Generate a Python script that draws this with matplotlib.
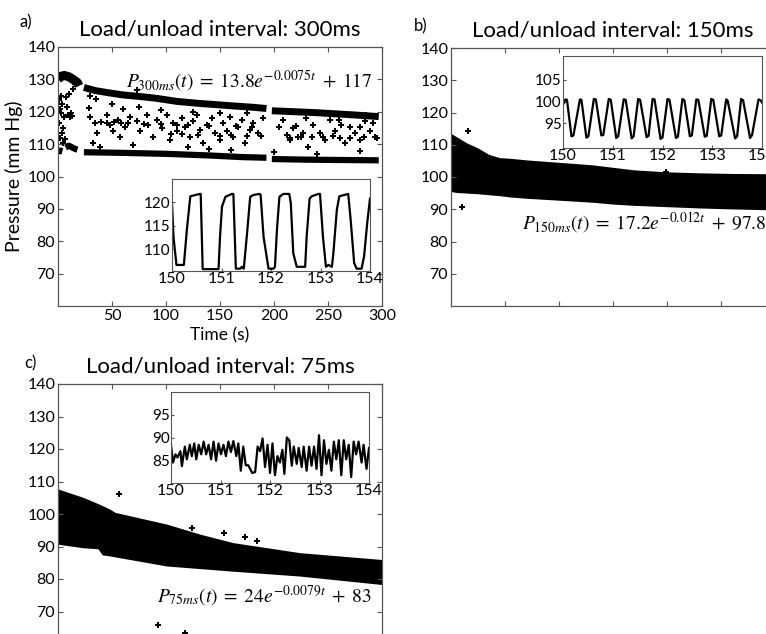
import matplotlib.pyplot as plt

plt.rcParams['font.family'] = ['Lato', 'DejaVu Sans']
plt.rcParams['mathtext.fontset'] = 'stix'

# ---- panel a: 300 ms, two dense bands plus scattered points in between
a_top1_t = [0, 3, 6, 10, 14, 18, 19.5]
a_top1_p = [130.0, 131.0, 131.2, 130.8, 130.0, 129.0, 128.0]
a_bot1_t = [0, 2, 4]
a_bot1_p = [107.5, 108.0, 107.8]
a_bot1b_t = [7, 10, 13, 16, 18]
a_bot1b_p = [109.0, 109.5, 109.0, 108.5, 108.3]
a_top2_t = [24, 35, 48, 60, 76, 90, 110, 130, 150, 162, 180, 193]
a_top2_p = [127.5, 126.5, 125.8, 125.2, 124.7, 124.2, 123.2, 122.6, 122.1, 121.8, 121.4, 121.0]
a_top3_t = [198, 220, 240, 255, 275, 297]
a_top3_p = [120.3, 120.0, 119.7, 119.4, 119.0, 118.5]
a_bot2_t = [24, 60, 100, 140, 170, 193]
a_bot2_p = [107.5, 107.3, 107.0, 106.5, 106.0, 105.8]
a_bot3_t = [198, 230, 260, 297]
a_bot3_p = [105.4, 105.2, 105.1, 105.0]
a_mid_t = [0.8, 1.5, 2.5, 3.0, 4.0, 5.0, 6.0, 7.0, 8.0, 9.0, 11.0, 12.0, 13.0, 2.0, 3.5, 6.5, 1.0, 4.5, 10.0, 14.0, 16.0,
           29.0, 29.6, 34.3, 35.8, 32.7, 38.9, 45.1, 48.1, 51.2, 55.9, 57.4, 62.0, 66.7, 69.7, 72.8, 75.9, 82.1, 83.6,
           88.3, 91.3, 96.0, 100.6, 103.7, 106.8, 109.9, 114.5, 117.6, 122.2, 125.3, 128.4, 131.5, 134.5, 137.6,
           142.3, 145.3, 150.0, 153.1, 156.2, 159.2, 162.3, 167.0, 170.0, 173.1, 177.8, 180.8, 185.5, 190.1,
           208.6, 211.7, 214.8, 217.9, 222.5, 227.1, 231.8, 236.4, 242.6, 247.2, 251.8, 256.4, 261.1, 265.7,
           270.3, 275.0, 279.6, 284.2, 288.8, 293.5,
           40, 45, 52, 58, 65, 80, 95, 110, 120, 140, 165, 180, 105, 115, 130, 150, 160, 175, 188, 215, 225, 235,
           245, 255, 270, 283, 295, 205, 220, 262, 280, 292, 140, 120, 160, 200, 240, 280, 60, 75, 95, 125, 150,
           175, 230, 260, 285, 35, 50, 30, 72.8]
a_mid_p = [123.5, 121.0, 125.0, 119.5, 122.5, 115.0, 118.5, 124.5, 121.5, 119.0, 118.5, 119.5, 118.7, 112.0, 113.5,
           111.5, 116.5, 110.5, 125.5, 127.0, 128.5,
           121.1, 118.5, 116.4, 113.3, 110.2, 109.2, 119.0, 115.9, 113.9, 117.5, 112.3, 115.4, 118.5, 109.7, 117.0,
           113.9, 119.0, 115.9, 112.3, 117.5, 114.9, 119.0, 111.3, 116.4, 113.9, 118.0, 115.4, 112.3, 117.0, 119.0,
           114.4, 110.2, 115.9, 118.0, 113.3, 111.3, 116.4, 113.9, 118.5, 112.3, 115.4, 117.5, 110.2, 114.4, 116.4,
           113.3, 118.0,
           117.5, 112.8, 111.3, 114.9, 112.3, 113.3, 109.2, 115.9, 113.3, 111.3, 117.5, 113.9, 111.8, 110.2, 115.4,
           113.3, 111.3, 117.0, 113.9, 112.3,
           116.8, 116.6, 116.7, 116.4, 116.5, 116.3, 116.2, 116.0, 115.9, 115.7, 115.6, 115.4, 113.0, 113.1, 112.9,
           112.6, 112.8, 112.5, 112.4, 112.0, 112.3, 112.2, 112.1, 112.4, 112.0, 112.2, 111.8, 115.2, 115.5, 116.0,
           115.2, 116.5, 108.5, 109.0, 108.3, 107.5, 107.0, 108.0, 121.0, 121.5, 120.5, 120.0, 119.5, 119.5, 118.0,
           117.5, 119.0, 124.0, 122.5, 125.0, 126.6]

ins_a_t = [150.00, 150.03, 150.09, 150.24, 150.30, 150.37, 150.56, 150.58, 150.62, 150.94, 150.97, 151.01, 151.08,
           151.21, 151.24, 151.29, 151.38, 151.41, 151.45, 151.51, 151.58, 151.65, 151.77, 151.79, 151.85, 151.95,
           152.05, 152.08, 152.12, 152.17, 152.25, 152.37, 152.40, 152.45, 152.52, 152.69, 152.72, 152.78, 152.82,
           152.96, 152.99, 153.05, 153.11, 153.16, 153.23, 153.26, 153.33, 153.38, 153.56, 153.61, 153.68, 153.73,
           153.83, 153.88, 153.95, 154.00]
ins_a_p = [119.8, 112.6, 106.6, 106.6, 114.1, 121.3, 121.8, 121.8, 105.7, 105.7, 112.6, 119.1, 121.2,
           121.8, 121.8, 105.8, 105.8, 106.2, 105.8, 112.6, 121.2, 121.6, 121.8, 121.6, 112.6, 105.8,
           105.8, 106.2, 114.1, 121.2, 121.8, 121.8, 119.8, 109.1, 106.2, 106.2, 112.6, 120.8, 121.3,
           121.8, 121.8, 112.6, 106.2, 106.6, 106.2, 109.1, 118.4, 121.3, 121.8, 116.2, 107.0, 105.8,
           105.8, 108.4, 116.2, 120.8]

# ---- panel b: 150 ms, one dense cloud
b_t = [0, 5, 15, 25, 35, 45, 55, 70, 90, 110, 130, 150, 170, 200, 230, 260, 300]
b_hi = [113.5, 112.5, 110.5, 109.0, 107.0, 106.0, 105.8, 105.3, 104.8, 104.3, 103.8, 103.0, 102.2, 101.6, 101.3, 101.1, 101.0]
b_lo = [95.5, 95.2, 95.0, 94.8, 94.5, 94.2, 93.8, 93.4, 93.0, 92.6, 92.2, 91.6, 91.2, 90.8, 90.4, 90.1, 89.8]
b_out_t = [10, 16, 199]
b_out_p = [90.7, 114.4, 101.5]

ins_b_t = [150.00, 150.05, 150.08, 150.17, 150.21, 150.34, 150.37, 150.47, 150.51, 150.62, 150.66, 150.77, 150.81,
           150.92, 150.96, 151.07, 151.11, 151.22, 151.26, 151.38, 151.42, 151.51, 151.55, 151.68, 151.72, 151.80,
           151.84, 151.96, 152.00, 152.10, 152.14, 152.27, 152.31, 152.40, 152.44, 152.55, 152.59, 152.68, 152.72,
           152.85, 152.89, 152.98, 153.02, 153.14, 153.18, 153.28, 153.31, 153.46, 153.50, 153.58, 153.62, 153.76,
           153.80, 153.93, 153.97, 154.00]
ins_b_p = [99.3, 100.5, 100.4, 92.0, 92.2, 100.5, 100.4, 91.7, 92.0, 100.6, 100.5, 92.2, 92.3,
           100.6, 100.4, 91.6, 92.0, 100.5, 100.4, 91.5, 92.0, 100.6, 100.4, 91.8, 92.1, 100.6,
           100.5, 91.4, 91.7, 100.6, 100.4, 91.6, 91.9, 100.6, 100.3, 92.0, 92.2, 100.5, 100.4,
           91.9, 92.1, 100.6, 100.4, 92.0, 92.2, 100.5, 100.2, 91.5, 92.0, 100.6, 100.3, 91.6,
           92.3, 100.5, 100.3, 99.8]

# ---- panel c: 75 ms, one dense cloud
c_t = [0, 23.5, 37, 41, 48, 52.8, 100.6, 131.5, 162, 224, 300]
c_hi = [107.7, 105.1, 103.2, 102.6, 101.5, 100.5, 96.9, 93.8, 91.2, 88.1, 86.0]
c_lo = [90.7, 89.6, 89.3, 87.4, 87.1, 86.8, 84.0, 83.2, 82.4, 80.9, 78.3]
c_out_t = [56.7, 124, 154, 173, 184, 92.9, 118]
c_out_p = [106.2, 95.8, 94.3, 93.0, 91.7, 65.9, 63.5]

ins_c_t = [150.00, 150.04, 150.09, 150.13, 150.19, 150.22, 150.28, 150.32, 150.38, 150.42, 150.47, 150.51, 150.56,
           150.61, 150.66, 150.71, 150.76, 150.81, 150.86, 150.91, 150.96, 151.01, 151.06, 151.11, 151.16, 151.21,
           151.26, 151.32, 151.36, 151.41, 151.46, 151.51, 151.56, 151.60, 151.64, 151.70, 151.75, 151.80, 151.85,
           151.90, 151.95, 152.00, 152.05, 152.10, 152.15, 152.20, 152.25, 152.29, 152.34, 152.39, 152.44, 152.48,
           152.54, 152.58, 152.64, 152.68, 152.74, 152.79, 152.84, 152.89, 152.94, 152.99, 153.04, 153.09, 153.14,
           153.19, 153.24, 153.29, 153.34, 153.39, 153.44, 153.49, 153.54, 153.59, 153.64, 153.69, 153.74, 153.79,
           153.85, 153.89, 153.95, 154.00]
ins_c_p = [88.4, 84.5, 86.3, 85.6, 87.0, 83.7, 88.0, 85.2, 88.4, 85.9, 88.7, 85.2, 88.4,
           86.3, 89.1, 86.3, 88.4, 85.2, 89.1, 84.9, 88.7, 86.3, 88.4, 85.9, 89.1, 86.8,
           89.2, 85.9, 88.7, 82.7, 88.0, 83.9, 83.9, 83.1, 82.2, 82.4, 88.0, 87.0, 89.8,
           83.5, 88.4, 82.2, 88.7, 81.7, 85.9, 84.5, 87.3, 82.0, 90.0, 89.4, 83.8, 88.0,
           84.2, 87.7, 83.5, 88.0, 82.7, 88.0, 83.8, 88.0, 83.1, 90.5, 81.7, 89.4, 84.2,
           87.3, 82.7, 89.1, 85.2, 89.4, 81.7, 89.4, 85.2, 88.4, 81.3, 89.1, 86.3, 89.1,
           84.5, 88.4, 83.1, 87.7]

main_xticks = [50, 100, 150, 200, 250, 300]
main_yticks = [70, 80, 90, 100, 110, 120, 130, 140]
ins_xticks = [150, 151, 152, 153, 154]

W, H = 766, 634
fig = plt.figure(figsize=(W / 100, H / 100), dpi=100)
spine_col = '#555555'


def box(x0, y0, x1, y1):
    # pixel box (from top-left) -> figure axes
    return fig.add_axes([x0 / W, 1 - y1 / H, (x1 - x0) / W, (y1 - y0) / H])


def style_main(ax, title, letter, lx, ly, show_x=True):
    ax.set_xlim(0, 300)
    ax.set_ylim(60, 140)
    ax.set_xticks(main_xticks)
    ax.set_yticks(main_yticks)
    if not show_x:
        ax.set_xticklabels([])
    ax.tick_params(direction='in', length=3.5, width=0.8, top=True, right=True, labelsize=11.5, pad=2,
                   color=spine_col)
    for s in ax.spines.values():
        s.set_color(spine_col)
        s.set_linewidth(0.9)
    ax.set_title(title, fontsize=16, pad=8)
    fig.text(lx / W, 1 - ly / H, letter, fontsize=12, ha='left', va='center')


def style_inset(ax, ylim, yticks):
    ax.set_xlim(150, 154)
    ax.set_ylim(*ylim)
    ax.set_xticks(ins_xticks)
    ax.set_yticks(yticks)
    ax.tick_params(axis='x', direction='in', length=2, labelsize=11.5, pad=1, color=spine_col)
    ax.tick_params(axis='y', direction='in', length=2, labelsize=11, pad=1, color=spine_col)
    for s in ax.spines.values():
        s.set_color(spine_col)
        s.set_linewidth(0.8)


def formula(x, y, s):
    fig.text(x / W, 1 - y / H, s, fontsize=14, ha='left', va='baseline')


# panel a
axa = box(58, 47, 382, 306)
for tt, pp, lw in [(a_top1_t, a_top1_p, 6.5), (a_bot1_t, a_bot1_p, 4.5), (a_bot1b_t, a_bot1b_p, 4.5),
                   (a_top2_t, a_top2_p, 5), (a_top3_t, a_top3_p, 5), (a_bot2_t, a_bot2_p, 4.5),
                   (a_bot3_t, a_bot3_p, 4.5)]:
    axa.plot(tt, pp, color='k', lw=lw, solid_capstyle='butt')
axa.plot(a_mid_t, a_mid_p, 'P', color='k', ms=4.5, mew=0)
style_main(axa, 'Load/unload interval: 300ms', 'a)', 20, 22)
axa.set_xlabel('Time (s)', fontsize=12.5, labelpad=3)
axa.set_ylabel('Pressure (mm Hg)', fontsize=14, labelpad=3)
formula(126, 88, r'$P_{300ms}(t)\;=\;13.8e^{-0.0075t}\;+\;117$')

ia = box(172, 179, 370, 271)
ia.plot(ins_a_t, ins_a_p, color='k', lw=1.6)
style_inset(ia, (105.3, 125), [110, 115, 120])

# panel b
axb = box(451, 48, 775, 306)
axb.fill_between(b_t, b_lo, b_hi, color='k', lw=0)
axb.plot(b_out_t, b_out_p, 'P', color='k', ms=4.5, mew=0)
style_main(axb, 'Load/unload interval: 150ms', 'b)', 414, 26, show_x=False)
formula(522, 229, r'$P_{150ms}(t)\;=\;17.2e^{-0.012t}\;+\;97.8$')

ib = box(563, 56, 762, 148)
ib.plot(ins_b_t, ins_b_p, color='k', lw=1.6)
style_inset(ib, (89.3, 110.5), [95, 100, 105])

# panel c
axc = box(58, 384, 382, 644)
axc.fill_between(c_t, c_lo, c_hi, color='k', lw=0)
axc.plot(c_out_t, c_out_p, 'P', color='k', ms=4.5, mew=0)
style_main(axc, 'Load/unload interval: 75ms', 'c)', 24, 363, show_x=False)
formula(157, 603, r'$P_{75ms}(t)\;=\;24e^{-0.0079t}\;+\;83$')

ic = box(171, 392, 369, 483)
ic.plot(ins_c_t, ins_c_p, color='k', lw=1.6)
style_inset(ic, (80, 100), [85, 90, 95])

fig.savefig('out.png', dpi=100)
